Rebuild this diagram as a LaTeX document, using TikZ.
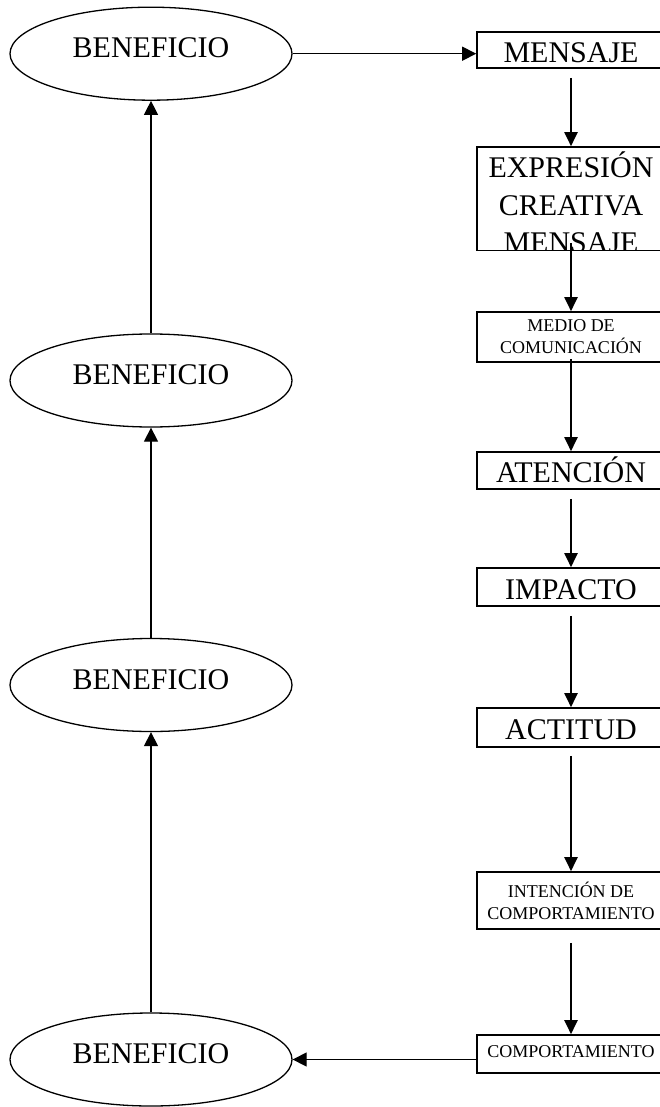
\documentclass[tikz,border=0pt]{standalone}
\usepackage{fontspec}
\setmainfont{Liberation Serif}
\usetikzlibrary{shapes.geometric,arrows.meta}
\newcommand{\letragrande}{\fontsize{30}{37}\selectfont}
\newcommand{\letrachica}{\fontsize{18}{22}\selectfont}

\begin{document}
\begin{tikzpicture}[x=1pt,y=-1pt,
    benef/.style={draw,ellipse,line width=1.3pt,minimum width=282pt,minimum height=93pt,
                  inner sep=0pt,font=\letragrande,text height=20pt,text depth=11.5pt},
    caja/.style={draw,line width=1.6pt,minimum width=188pt,inner sep=0pt,
                 font=\letragrande,text height=24.5pt,text depth=0pt},
    cajachica/.style={draw,line width=1.6pt,minimum width=188pt,inner sep=0pt,
                      font=\letrachica,align=center},
    flecha/.style={line width=2pt,-{Triangle[length=14pt,width=13pt]}},
    flechafina/.style={line width=1.3pt,-{Triangle[length=14pt,width=14pt]}}]
	\useasboundingbox (0,0) rectangle (660,1107);
	\clip (0,0) rectangle (660,1107); % boxes run past the right edge
	% beneficios (left column)
	\node[benef] (ben1) at (151,53.7) {BENEFICIO};
	\node[benef] (ben2) at (151,380.5) {BENEFICIO};
	\node[benef] (ben3) at (151,685) {BENEFICIO};
	\node[benef] (ben4) at (151,1059.5) {BENEFICIO};
	% right column
	\node[caja, minimum height=36pt] (men) at (571,50) {MENSAJE};
	\node[draw, line width=1.6pt, minimum width=188pt, minimum height=103.5pt] (expr) at (571,198.75) {};
	\begin{scope}
		\clip ([xshift=1.6pt,yshift=-1.6pt]expr.north west) rectangle ([xshift=-1.6pt,yshift=1.6pt]expr.south east);
		\foreach \t [count=\i from 0] in {EXPRESIÓN,CREATIVA,MENSAJE}
			\node[font=\letragrande, anchor=base, inner sep=0pt] (expr\i) at (571,178+37*\i) {\t};
	\end{scope}
	\node[cajachica, minimum height=50pt] (medio) at (571,337) {MEDIO DE\\COMUNICACIÓN};
	\node[caja, minimum height=37pt] (aten) at (571,470.5) {ATENCIÓN};
	\node[caja, minimum height=38pt] (imp) at (571,587) {IMPACTO};
	\node[caja, minimum height=39pt] (act) at (571,727.5) {ACTITUD};
	\node[cajachica, minimum height=57pt] (inten) at (571,900.5) {INTENCIÓN DE\\COMPORTAMIENTO};
	\node[cajachica, minimum height=38pt, text height=12pt, text depth=6pt] (comp) at (571,1054) {COMPORTAMIENTO};
	% arrows down the right column
	\draw[flecha] ([yshift=-9pt]men.south) -- (expr.north);
	\draw[flecha] ([yshift=8.5pt]expr.south) -- (medio.north);
	\draw[flecha] ([yshift=4pt]medio.south) -- (aten.north);
	\draw[flecha] ([yshift=-9pt]aten.south) -- (imp.north);
	\draw[flecha] ([yshift=-9pt]imp.south) -- (act.north);
	\draw[flecha] ([yshift=-8pt]act.south) -- (inten.north);
	\draw[flecha] ([yshift=-13pt]inten.south) -- (comp.north);
	% arrows up the left column
	\draw[flechafina] (ben4.north) -- (ben3.south);
	\draw[flechafina] (ben3.north) -- (ben2.south);
	\draw[flechafina] (ben2.north) -- (ben1.south);
	% across
	\draw[flechafina] (ben1.east) -- (men.west |- ben1.east);
	\draw[flechafina] (comp.west |- ben4.east) -- (ben4.east);
\end{tikzpicture}
\end{document}
